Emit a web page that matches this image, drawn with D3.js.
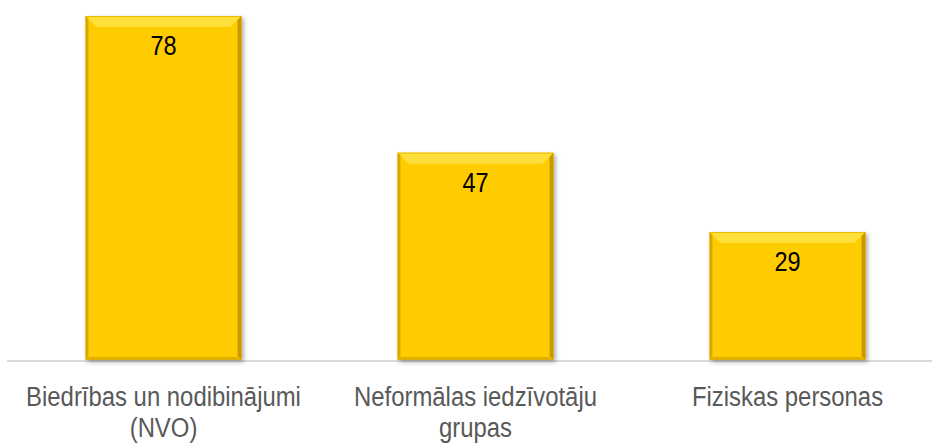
<!DOCTYPE html>
<html>
<head>
<meta charset="utf-8">
<script src="https://cdn.jsdelivr.net/npm/d3@7"></script>
<style>
  body { margin: 0; background: #fff; }
  svg { display: block; font-family: "Liberation Sans", Arial, sans-serif; }
</style>
</head>
<body>
<svg id="chart"></svg>
<script>
const categories = [["Biedrības un nodibinājumi", "(NVO)"], ["Neformālas iedzīvotāju", "grupas"], ["Fiziskas personas"]];
const values = [78, 47, 29];

const W = 932, H = 443;
const baseY = 360, topMargin = 16;
const svg = d3.select('#chart').attr('width', W).attr('height', H);

const x = d3.scaleBand()
    .domain(d3.range(values.length))
    .range([7.5, 943.5])
    .paddingInner(0.5)
    .paddingOuter(0.25);
const y = d3.scaleLinear().domain([0, 78]).range([baseY, topMargin]);

const defs = svg.append('defs');
const sh = defs.append('filter').attr('id', 'shadow').attr('x', -0.1).attr('y', -0.1).attr('width', 1.2).attr('height', 1.2);
sh.append('feDropShadow').attr('dx', 2).attr('dy', 2).attr('stdDeviation', 2).attr('flood-color', '#000').attr('flood-opacity', 0.35);

// axis line
svg.append('line')
    .attr('x1', 7).attr('x2', W)
    .attr('y1', baseY + 1).attr('y2', baseY + 1)
    .attr('stroke', '#d9d9d9').attr('stroke-width', 2);

const bev = 11;
const bars = svg.selectAll('g.bar').data(values).join('g').attr('class', 'bar');

bars.append('rect')
    .attr('x', (d, i) => x(i))
    .attr('y', d => y(d))
    .attr('width', x.bandwidth())
    .attr('height', d => baseY - y(d))
    .attr('fill', '#ffcc00')
    .attr('filter', 'url(#shadow)');

// top bevel
bars.append('path')
    .attr('d', (d, i) => {
        const x0 = x(i), x1 = x(i) + x.bandwidth(), t = y(d);
        return `M${x0},${t}L${x1},${t}L${x1 - bev},${t + bev}L${x0 + bev},${t + bev}Z`;
    })
    .attr('fill', '#ffe03a');
// left side
bars.append('path')
    .attr('d', (d, i) => {
        const x0 = x(i), t = y(d);
        return `M${x0},${t}L${x0 + 3},${t + 3}L${x0 + 3},${baseY - 3}L${x0},${baseY}Z`;
    })
    .attr('fill', '#d9a800');
// right side
bars.append('path')
    .attr('d', (d, i) => {
        const x1 = x(i) + x.bandwidth(), t = y(d);
        return `M${x1},${t}L${x1 - 4},${t + 4}L${x1 - 4},${baseY - 4}L${x1},${baseY}Z`;
    })
    .attr('fill', '#c99a00');
// bottom edge
bars.append('path')
    .attr('d', (d, i) => {
        const x0 = x(i), x1 = x(i) + x.bandwidth();
        return `M${x0},${baseY}L${x0 + 3},${baseY - 3}L${x1 - 4},${baseY - 3}L${x1},${baseY}Z`;
    })
    .attr('fill', '#e0b000');
// top edge highlight
bars.append('line')
    .attr('x1', (d, i) => x(i)).attr('x2', (d, i) => x(i) + x.bandwidth())
    .attr('y1', d => y(d) + 0.5).attr('y2', d => y(d) + 0.5)
    .attr('stroke', '#e8bb00').attr('stroke-width', 1);

// value labels (narrow face, like Arial Narrow)
bars.append('text')
    .attr('transform', (d, i) => `translate(${x(i) + x.bandwidth() / 2},${y(d) + 39}) scale(0.84,1)`)
    .attr('text-anchor', 'middle')
    .attr('font-size', 28)
    .attr('fill', '#000')
    .text(d => d);

// category labels
const labs = svg.selectAll('text.cat').data(categories).join('text')
    .attr('class', 'cat')
    .attr('transform', (d, i) => `translate(${x(i) + x.bandwidth() / 2},0) scale(0.885,1)`)
    .attr('text-anchor', 'middle')
    .attr('font-size', 27)
    .attr('fill', '#595959');
labs.each(function (lines, i) {
    const t = d3.select(this);
    lines.forEach((l, j) => {
        t.append('tspan')
            .attr('x', 0)
            .attr('y', 406 + j * 31)
            .text(l);
    });
});
</script>
</body>
</html>
